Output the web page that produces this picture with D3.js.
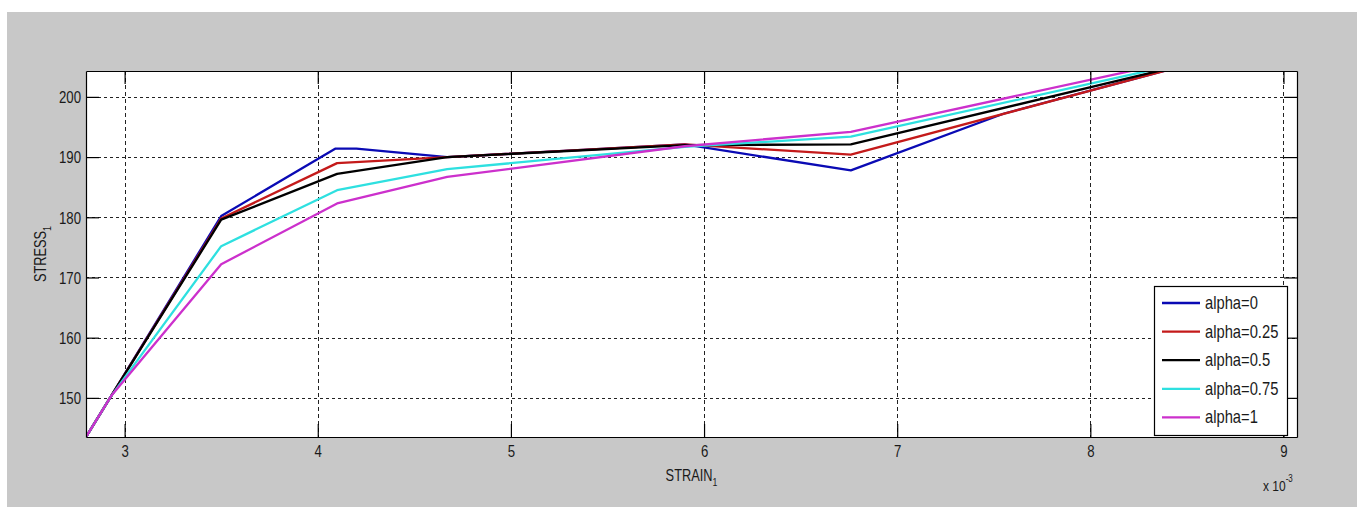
<!DOCTYPE html>
<html>
<head>
<meta charset="utf-8">
<script src="https://cdn.jsdelivr.net/npm/d3@7"></script>
<style>
  html, body { margin: 0; padding: 0; background: #ffffff; }
  svg { display: block; }
  text { font-family: "Liberation Sans", Arial, Helvetica, sans-serif; fill: #1a1a1a; }
</style>
</head>
<body>
<svg id="chart" width="1364" height="514"></svg>
<script>
// Strain values are in units of 1e-3 (see the "x 10^-3" multiplier on the axis)
const xTicks = [3, 4, 5, 6, 7, 8, 9];
const yTicks = [150, 160, 170, 180, 190, 200];
const xDomain = [2.8, 9.07];
const yDomain = [143.5, 204.3];

const seriesNames = ["alpha=0", "alpha=0.25", "alpha=0.5", "alpha=0.75", "alpha=1"];
const seriesColors = ["#0a0ab4", "#c41a1a", "#000000", "#2ee0e0", "#cc30cc"];

// strain / stress pairs for each alpha
const strainAlpha0    = [2.8, 2.93, 3.5, 4.09, 4.2, 4.67, 5.9, 6.76, 7.55, 9.07];
const stressAlpha0    = [143.5, 150.3, 180.2, 191.4, 191.4, 190.0, 192.1, 187.8, 197.2, 210.2];
const strainAlpha025  = [2.8, 2.93, 3.5, 4.1, 4.67, 5.9, 6.76, 9.07];
const stressAlpha025  = [143.5, 150.3, 179.8, 189.0, 190.0, 192.1, 190.4, 210.2];
const strainAlpha05   = [2.8, 2.93, 3.5, 4.1, 4.67, 5.9, 6.76, 9.07];
const stressAlpha05   = [143.5, 150.3, 179.6, 187.2, 190.0, 192.0, 192.1, 209.8];
const strainAlpha075  = [2.8, 2.93, 3.5, 4.1, 4.67, 5.9, 6.76, 9.07];
const stressAlpha075  = [143.5, 150.3, 175.2, 184.5, 188.0, 191.7, 193.4, 209.8];
const strainAlpha1    = [2.8, 2.93, 3.5, 4.1, 4.67, 5.9, 6.76, 9.07];
const stressAlpha1    = [143.5, 150.3, 172.2, 182.3, 186.7, 191.8, 194.2, 210.3];

const strains = [strainAlpha0, strainAlpha025, strainAlpha05, strainAlpha075, strainAlpha1];
const stresses = [stressAlpha0, stressAlpha025, stressAlpha05, stressAlpha075, stressAlpha1];

const series = seriesNames.map((name, i) => ({
  name, color: seriesColors[i],
  points: strains[i].map((x, j) => [x, stresses[i][j]])
}));

const svg = d3.select("#chart");

// figure background panel
svg.append("rect").attr("x", 7).attr("y", 12).attr("width", 1350).attr("height", 495)
  .attr("fill", "#c8c8c8");

const plot = { left: 86, top: 71, right: 1297, bottom: 437 };
const x = d3.scaleLinear().domain(xDomain).range([plot.left, plot.right]);
const y = d3.scaleLinear().domain(yDomain).range([plot.bottom, plot.top]);

// axes area
svg.append("rect").attr("x", plot.left).attr("y", plot.top)
  .attr("width", plot.right - plot.left).attr("height", plot.bottom - plot.top)
  .attr("fill", "#ffffff");

svg.append("clipPath").attr("id", "plotClip").append("rect")
  .attr("x", plot.left).attr("y", plot.top)
  .attr("width", plot.right - plot.left).attr("height", plot.bottom - plot.top);

// dotted grid
const grid = svg.append("g").attr("stroke", "#222").attr("stroke-width", 1).attr("fill", "none");
grid.selectAll("line.gy").data(yTicks).join("line").attr("class", "gy")
  .attr("x1", plot.left).attr("x2", plot.right)
  .attr("y1", d => Math.round(y(d)) + 0.5).attr("y2", d => Math.round(y(d)) + 0.5)
  .attr("stroke-dasharray", "3,3");
grid.selectAll("line.gx").data(xTicks).join("line").attr("class", "gx")
  .attr("y1", plot.top).attr("y2", plot.bottom)
  .attr("x1", d => Math.round(x(d)) + 0.5).attr("x2", d => Math.round(x(d)) + 0.5)
  .attr("stroke-dasharray", "4,3");

// data lines
const line = d3.line().x(d => x(d[0])).y(d => y(d[1]));
const lines = svg.append("g").attr("clip-path", "url(#plotClip)");
lines.selectAll("path").data(series).join("path")
  .attr("d", d => line(d.points))
  .attr("fill", "none")
  .attr("stroke", d => d.color)
  .attr("stroke-width", 2.3)
  .attr("stroke-linejoin", "round");

// axes with inward ticks, mirrored on the top and right edges
const tickLen = 13;
const axisBottom = d3.axisBottom(x).tickValues(xTicks).tickSizeInner(-tickLen).tickSizeOuter(0).tickPadding(8).tickFormat(d3.format("d"));
const axisLeft = d3.axisLeft(y).tickValues(yTicks).tickSizeInner(-tickLen).tickSizeOuter(0).tickPadding(5).tickFormat(d3.format("d"));
const axisTop = d3.axisTop(x).tickValues(xTicks).tickSizeInner(-tickLen).tickSizeOuter(0).tickFormat("");
const axisRight = d3.axisRight(y).tickValues(yTicks).tickSizeInner(-tickLen).tickSizeOuter(0).tickFormat("");

const gB = svg.append("g").attr("transform", `translate(0,${plot.bottom})`).call(axisBottom);
const gL = svg.append("g").attr("transform", `translate(${plot.left},0)`).call(axisLeft);
svg.append("g").attr("transform", `translate(0,${plot.top})`).call(axisTop);
svg.append("g").attr("transform", `translate(${plot.right},0)`).call(axisRight);

svg.selectAll(".domain").attr("stroke", "#000").attr("stroke-width", 1.2);
svg.selectAll(".tick line").attr("stroke", "#000").attr("stroke-width", 1.2);

// narrow tick labels
gB.selectAll(".tick text").attr("font-size", 16.5).attr("fill", "#1a1a1a")
  .attr("transform", "scale(0.8,1)");
gL.selectAll(".tick text").attr("font-size", 16.5).attr("fill", "#1a1a1a")
  .attr("x", 0).attr("dy", "0.35em")
  .attr("transform", "translate(-5,0) scale(0.8,1)")
  .attr("text-anchor", "end");

// axis titles
const xl = svg.append("text").attr("transform", `translate(${(plot.left + plot.right) / 2},481) scale(0.8,1)`)
  .attr("text-anchor", "middle").attr("font-size", 16);
xl.append("tspan").text("STRAIN");
xl.append("tspan").attr("font-size", 11).attr("dy", 5).text("1");

const yl = svg.append("text").attr("transform", `translate(46,${(plot.top + plot.bottom) / 2}) rotate(-90) scale(0.8,1)`)
  .attr("text-anchor", "middle").attr("font-size", 16);
yl.append("tspan").text("STRESS");
yl.append("tspan").attr("font-size", 11).attr("dy", 5).text("1");

// exponent multiplier
const ex = svg.append("text").attr("transform", `translate(1263,491) scale(0.8,1)`).attr("font-size", 15);
ex.append("tspan").text("x 10");
ex.append("tspan").attr("font-size", 10).attr("dy", -9).text("-3");

// legend
const leg = { x: 1154, y: 286, w: 133, h: 149, row: 28.6 };
const lg = svg.append("g");
lg.append("rect").attr("x", leg.x + 0.5).attr("y", leg.y + 0.5).attr("width", leg.w).attr("height", leg.h)
  .attr("fill", "#ffffff").attr("stroke", "#000").attr("stroke-width", 1.2);
const rows = lg.selectAll("g.row").data(series).join("g").attr("class", "row")
  .attr("transform", (d, i) => `translate(${leg.x},${leg.y + 17 + i * leg.row})`);
rows.append("line").attr("x1", 8).attr("x2", 46).attr("y1", 0).attr("y2", 0)
  .attr("stroke", d => d.color).attr("stroke-width", 2.3);
rows.append("text").attr("transform", "translate(51,6) scale(0.82,1)")
  .attr("font-size", 18).text(d => d.name);
</script>
</body>
</html>
